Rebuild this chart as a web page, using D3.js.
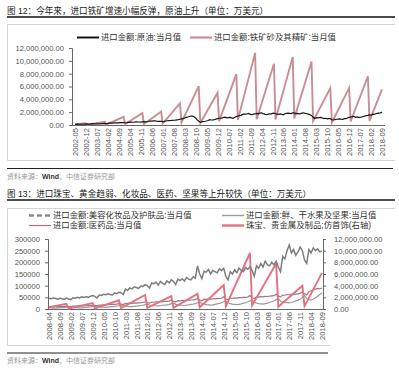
<!DOCTYPE html>
<html>
<head>
<meta charset="utf-8">
<script src="https://cdn.jsdelivr.net/npm/d3@7"></script>
<style>
  body{margin:0;background:#fff;}
  svg{font-family:"Liberation Sans","Noto Sans CJK SC",sans-serif;}
</style>
</head>
<body>
<svg id="c" width="399" height="368"></svg>
<script>
// chart 1: values in 亿美元 (1 亿美元 = 10,000 万美元)
const UNIT = 10000;
const start1 = "2002-05", end1 = "2018-09";
const crudeOil = [
  12,11,13,12,13,12,14,15,
  17,15,18,20,19,17,16,18,19,22,21,24,
  22,24,28,30,29,32,35,33,34,36,38,37,
  35,36,40,42,45,43,46,50,48,47,44,50,
  52,48,55,58,62,60,64,66,60,55,56,58,
  54,56,62,66,68,70,72,74,76,80,84,90,
  96,100,110,118,125,132,140,138,128,110,80,60,
  45,50,55,58,62,70,82,78,80,85,92,100,
  105,108,112,118,122,110,115,118,112,105,120,130,
  140,145,150,165,170,168,175,180,165,160,170,175,
  180,175,185,190,178,170,160,165,175,170,180,185,
  175,170,165,172,168,160,175,180,185,182,178,190,
  185,178,182,175,178,185,190,180,175,170,160,150,
  120,100,115,110,115,118,110,100,105,95,98,100,
  80,78,85,90,92,95,90,88,98,100,110,120,
  125,130,135,120,125,118,120,125,130,140,145,150,
  160,150,170,165,175,180,185,190,200
];
// iron ore: year-to-date totals, read at first and last month of each year
const ironOre = [
  ["2002-05",11],["2002-12",27],["2003-01",3],["2003-12",49],
  ["2004-01",8],["2004-12",128],["2005-01",15],["2005-12",184],
  ["2006-01",16],["2006-12",209],["2007-01",22],["2007-12",338],
  ["2008-01",40],["2008-12",606],["2009-01",30],["2009-12",501],
  ["2010-01",60],["2010-12",794],["2011-01",80],["2011-12",1124],
  ["2012-01",90],["2012-12",956],["2013-01",85],["2013-12",1058],
  ["2014-01",100],["2014-12",990],["2015-01",60],["2015-12",576],
  ["2016-01",40],["2016-12",579],["2017-01",55],["2017-12",760],
  ["2018-01",65],["2018-09",555]
];
const yTicks1 = [0,2000000,4000000,6000000,8000000,10000000,12000000];

// chart 2: values in 万美元
const start2 = "2008-04", end2 = "2018-09";
const cosmetics = [
  46000,44000,47000,45000,42000,46000,44000,41000,47000,
  43000,40000,48000,46000,50000,47000,52000,49000,53000,50000,55000,58000,
  54000,47000,60000,58000,63000,61000,65000,62000,60000,68000,66000,72000,
  70000,62000,85000,80000,90000,86000,95000,92000,88000,98000,96000,104000,
  100000,90000,112000,108000,115000,102000,118000,110000,105000,120000,112000,125000,
  118000,105000,128000,122000,130000,120000,135000,128000,125000,138000,132000,185000,
  150000,130000,162000,158000,170000,150000,165000,160000,155000,172000,165000,175000,
  140000,125000,160000,150000,168000,155000,175000,165000,160000,178000,170000,180000,
  165000,140000,185000,175000,195000,180000,205000,190000,185000,200000,190000,205000,
  180000,160000,225000,215000,250000,275000,240000,255000,230000,245000,265000,250000,
  210000,195000,255000,240000,262000,250000,258000,245000,248000
];
const medicine = [
  9000,10000,9500,10500,10000,11000,10500,11000,12000,
  11000,10500,12500,12000,13000,12500,13500,13000,14000,14500,15000,16000,
  15000,14000,17000,16500,18000,17500,19000,18500,19500,20000,21000,23000,
  21000,19000,24000,23500,25000,24000,26000,25500,26500,27000,28000,31000,
  27000,25000,30000,29000,31000,30000,32000,31500,32500,33000,34000,38000,
  33000,30000,36000,35000,37000,36000,38000,37500,38500,39000,40000,46000,
  38000,35000,42000,41000,43000,42000,44000,43500,44500,45000,46000,52000,
  43000,40000,47000,46000,48000,47000,49000,48500,49500,50000,51000,58000,
  48000,45000,52000,51000,53000,52000,54000,53500,55000,56000,57000,63000,
  55000,52000,60000,59000,62000,61000,63000,62000,64000,65000,67000,74000,
  66000,60000,75000,78000,82000,85000,88000,86000,90000
];
const fruit = [
  6000,5000,4000,4000,5000,6000,7000,6000,8000,
  9000,8000,7000,6000,6000,5000,5000,6000,7000,8000,9000,11000,
  12000,10000,9000,8000,8000,7000,8000,9000,10000,11000,12000,14000,
  16000,13000,12000,11000,10000,10000,11000,12000,13000,15000,16000,19000,
  20000,17000,15000,14000,14000,13000,14000,16000,17000,18000,20000,23000,
  26000,20000,18000,17000,16000,15000,17000,18000,20000,21000,23000,27000,
  30000,24000,21000,19000,18000,17000,18000,20000,22000,24000,27000,31000,
  34000,27000,23000,21000,20000,19000,20000,22000,25000,27000,30000,35000,
  38000,29000,25000,23000,22000,21000,23000,25000,28000,31000,34000,40000,
  45000,34000,30000,28000,27000,26000,28000,31000,35000,38000,42000,50000,
  58000,45000,40000,38000,42000,48000,55000,62000,70000
];
// jewelry: year-to-date totals (right axis)
const jewelry = [
  ["2008-04",300000],["2008-12",900000],["2009-01",80000],["2009-12",1000000],
  ["2010-01",100000],["2010-12",1500000],["2011-01",150000],["2011-12",2400000],
  ["2012-01",200000],["2012-12",2200000],["2013-01",200000],["2013-12",2600000],
  ["2014-01",300000],["2014-12",4100000],["2015-01",500000],["2015-12",9600000],
  ["2016-01",600000],["2016-12",7800000],["2017-01",400000],["2017-12",4000000],
  ["2018-01",500000],["2018-09",6200000]
];
const yTicksL2 = [0,50000,100000,150000,200000,250000,300000];
const yTicksR2 = [0,2000000,4000000,6000000,8000000,10000000,12000000];

const parseM = d3.timeParse("%Y-%m"), fmtM = d3.timeFormat("%Y-%m");
function monthList(a, b){
  return d3.timeMonth.range(parseM(a), d3.timeMonth.offset(parseM(b), 1)).map(fmtM);
}
const months1 = monthList(start1, end1);
const months2 = monthList(start2, end2);

const svg = d3.select("#c");
const TXT = "#333", AX = "#666";

function header(y, title){
  svg.append("text").attr("x", 7).attr("y", y).attr("font-size", 8.6)
    .attr("fill", "#222").text(title);
  svg.append("line").attr("x1", 7).attr("x2", 395).attr("y1", y + 3).attr("y2", y + 3)
    .attr("stroke", "#111").attr("stroke-width", 1.6);
}
function footer(y, x2){
  svg.append("line").attr("x1", 7).attr("x2", x2).attr("y1", y).attr("y2", y)
    .attr("stroke", "#222").attr("stroke-width", 1.2);
  const t = svg.append("text").attr("x", 7).attr("y", y + 10).attr("font-size", 7).attr("fill", "#999");
  t.append("tspan").text("资料来源：");
  t.append("tspan").attr("fill", "#333").attr("font-weight", "bold").text("Wind");
  t.append("tspan").text("，中信证券研究部");
}
function legendItem(x, y, color, width, dash, label){
  svg.append("line").attr("x1", x).attr("x2", x + 22).attr("y1", y).attr("y2", y)
    .attr("stroke", color).attr("stroke-width", width).attr("stroke-dasharray", dash);
  svg.append("text").attr("x", x + 24).attr("y", y).attr("dy", "0.35em")
    .attr("font-size", 8.4).attr("fill", TXT).text(label);
}
function styleAxis(g){
  g.selectAll("path,line").attr("stroke", AX);
  g.selectAll("text").attr("fill", "#555").attr("font-size", 7.6);
}
function xAxis(g, x, ticks, y, x0, x1){
  g.attr("transform", "translate(0," + y + ")")
    .call(d3.axisBottom(x).tickValues(ticks).tickSize(0));
  g.select(".domain").attr("d", "M" + x0 + ",0.5H" + x1);
  g.selectAll("text").attr("transform", "rotate(-90)").attr("text-anchor", "end")
    .attr("x", -3).attr("y", 0).attr("dy", "0.35em");
  styleAxis(g);
}

// ---------------- chart 1 ----------------
header(14, "图 12：今年来，进口铁矿增速小幅反弹，原油上升（单位：万美元）");
svg.append("path").attr("d", "M395,24.5H7.5V160.5H395").attr("fill", "none").attr("stroke", "#d5d5d5");

const x1 = d3.scalePoint().domain(months1).range([75, 382]);
const y1 = d3.scaleLinear().domain([0, 12000000]).range([125, 48]);

svg.append("g").attr("transform", "translate(72,0)")
  .call(d3.axisLeft(y1).tickValues(yTicks1).tickFormat(d3.format(",.2f")).tickSize(3).tickPadding(5))
  .call(styleAxis);
svg.append("g").call(xAxis, x1, months1.filter((d, i) => i % 7 === 0), 125, 72, 385);

svg.append("path").datum(ironOre)
  .attr("fill", "none").attr("stroke", "#c98d94").attr("stroke-width", 1.9)
  .attr("d", d3.line().x(d => x1(d[0])).y(d => y1(d[1] * UNIT)));
svg.append("path").datum(crudeOil)
  .attr("fill", "none").attr("stroke", "#151515").attr("stroke-width", 1.2)
  .attr("d", d3.line().x((d, i) => x1(months1[i])).y(d => y1(d * UNIT)));

legendItem(77, 37.5, "#151515", 2, null, "进口金额:原油:当月值");
legendItem(190, 37.5, "#c98d94", 2.2, null, "进口金额:铁矿砂及其精矿:当月值");
footer(168.5, 393);

// ---------------- chart 2 ----------------
header(197, "图 13：进口珠宝、黄金趋弱、化妆品、医药、坚果等上升较快（单位：万美元）");
svg.append("path").attr("d", "M395,208.5H7.5V345.5H330").attr("fill", "none").attr("stroke", "#d5d5d5");

const x2 = d3.scalePoint().domain(months2).range([49, 322]);
const yL = d3.scaleLinear().domain([0, 300000]).range([309, 239]);
const yR = d3.scaleLinear().domain([0, 12000000]).range([309, 239]);

svg.append("g").attr("transform", "translate(48,0)")
  .call(d3.axisLeft(yL).tickValues(yTicksL2).tickFormat(d3.format("d")).tickSize(3).tickPadding(5))
  .call(styleAxis);
svg.append("g").attr("transform", "translate(323,0)")
  .call(d3.axisRight(yR).tickValues(yTicksR2).tickFormat(d3.format(",.2f")).tickSize(3).tickPadding(8))
  .call(styleAxis);
svg.append("g").call(xAxis, x2, months2.filter((d, i) => i % 5 === 0), 309, 48, 323);

const lineL = d3.line().x((d, i) => x2(months2[i])).y(d => yL(d));
svg.append("path").datum(fruit).attr("fill", "none").attr("stroke", "#9a9a9a").attr("stroke-width", 1.2).attr("d", lineL);
svg.append("path").datum(medicine).attr("fill", "none").attr("stroke", "#a8727e").attr("stroke-width", 1.2).attr("d", lineL);
svg.append("path").datum(jewelry).attr("fill", "none").attr("stroke", "#e0737f").attr("stroke-width", 1.9)
  .attr("d", d3.line().x(d => x2(d[0])).y(d => yR(d[1])));
svg.append("path").datum(cosmetics).attr("fill", "none").attr("stroke", "#7d7d7d").attr("stroke-width", 1.5).attr("d", lineL);

legendItem(29, 215.5, "#8a8a8a", 2.6, "5,3", "进口金额:美容化妆品及护肤品:当月值");
legendItem(29, 225.5, "#a8727e", 1.2, null, "进口金额:医药品:当月值");
legendItem(222, 215.5, "#9a9a9a", 1.4, null, "进口金额:鲜、干水果及坚果:当月值");
legendItem(222, 225.5, "#e0737f", 2.4, null, "珠宝、贵金属及制品;仿首饰(右轴)");
footer(353, 328);
</script>
</body>
</html>
